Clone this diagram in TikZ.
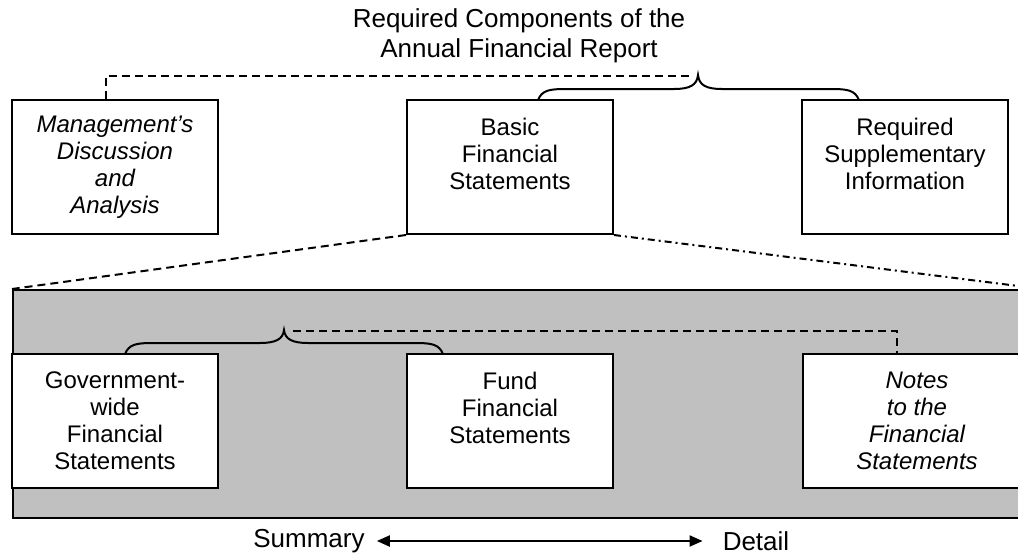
\documentclass[tikz,border=0pt]{standalone}
\usepackage{fontspec}
\setmainfont{Liberation Sans}
\usetikzlibrary{arrows.meta}
\tikzset{
  box/.style={draw, line width=2pt, fill=white, align=center, inner sep=0pt,
    minimum width=206pt, minimum height=134pt,
    font=\fontsize{24}{27}\selectfont},
  panelbox/.style={draw, line width=2pt, fill=panelgray, inner sep=0pt},
  dashline/.style={line width=2pt, dash pattern=on 8pt off 5pt},
  dashdotline/.style={line width=2pt, dash pattern=on 7pt off 4pt on 2pt off 4pt},
  bracel/.style={line width=2pt},
  lbl/.style={inner sep=0pt, font=\fontsize{26}{30}\selectfont, align=center},
  dblarrow/.style={line width=2pt, {Triangle[length=13pt,width=11pt]}-{Triangle[length=13pt,width=11pt]}}
}
\definecolor{panelgray}{HTML}{C0C0C0}
\begin{document}
\begin{tikzpicture}[x=1pt,y=-1pt]
\useasboundingbox (0,0) rectangle (1018,557);
\clip (0,0) rectangle (1018,557);
\fill[white] (0,0) rectangle (1018,557);

% title
\node[lbl] (title) at (519,36) {Required Components of the\\Annual Financial Report};

% top boxes
\node[box] (mda) at (115,167) {\itshape Management’s\\\itshape Discussion\\\itshape and\\\itshape Analysis};
\node[box] (basic) at (510,167) {Basic\\Financial\\Statements\\\mbox{}};
\node[box] (rsi) at (905,167) {Required\\Supplementary\\Information\\\mbox{}};

% grey panel
\node[panelbox, minimum width=1028pt, minimum height=228pt, anchor=north west] (panel) at (12,289) {};

% lower boxes
\node[box] (gov) at (115,421) {Government-\\wide\\Financial\\Statements};
\node[box] (fund) at (510,421) {Fund\\Financial\\Statements\\\mbox{}};
\node[box, minimum width=228pt] (notes) at (917,421) {\itshape Notes\\\itshape to the\\\itshape Financial\\\itshape Statements};

% expansion lines
\draw[dashline] (basic.south west) -- (panel.north west);
\draw[dashdotline] (basic.south east) -- (panel.north east);

% upper brace
\coordinate (tipA) at (698,75);
\coordinate (dendA) at (689,76);
\draw[bracel] (538,100) .. controls (542,90) and (550,89) .. (566,89) -- (674,89)
  .. controls (690,89) and (697,85) .. (tipA)
  .. controls (699,85) and (706,89) .. (722,89) -- (831,89)
  .. controls (847,89) and (855,90) .. (859,100);
\draw[dashline] ([xshift=-9pt]mda.north) |- (dendA);

% lower brace
\coordinate (tipB) at (284,330);
\coordinate (dendB) at (293,331);
\draw[bracel] (125,354) .. controls (129,344) and (137,343) .. (153,343) -- (260,343)
  .. controls (276,343) and (283,339) .. (tipB)
  .. controls (285,339) and (292,343) .. (308,343) -- (415,343)
  .. controls (431,343) and (439,344) .. (443,354);
\draw[dashline] (dendB) -| ([xshift=-20pt]notes.north);

% summary / detail
\node[lbl] (summary) at (309,541) {Summary};
\node[lbl] (detail) at (756,541) {Detail};
\draw[dblarrow] ([xshift=12pt]summary.east) -- ([xshift=-20pt]detail.west);
\end{tikzpicture}
\end{document}
